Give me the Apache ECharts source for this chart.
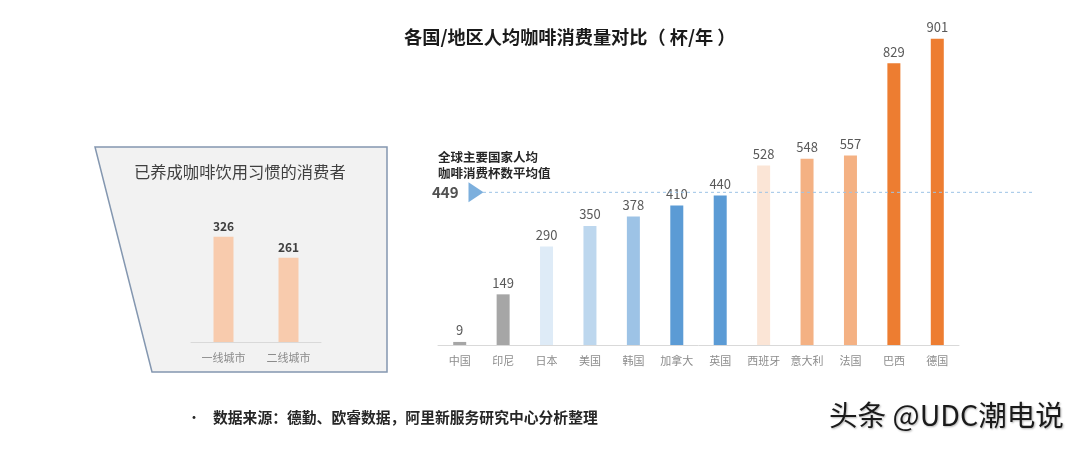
<!DOCTYPE html>
<html>
<head>
<meta charset="utf-8">
<script src="https://cdn.jsdelivr.net/npm/echarts@6/dist/echarts.min.js"></script>
<style>
  html, body { margin: 0; padding: 0; background: #fff; }
  #chart { width: 1080px; height: 449px; }
</style>
</head>
<body>
<div id="chart"></div>
<script>
// 各国人均咖啡消费量（杯/年）
const countries = ['中国', '印尼', '日本', '美国', '韩国', '加拿大', '英国', '西班牙', '意大利', '法国', '巴西', '德国'];
const cupsPerYear = [9, 149, 290, 350, 378, 410, 440, 528, 548, 557, 829, 901];
const barColors = ['#a6a6a6', '#a6a6a6', '#deebf7', '#bdd7ee', '#9dc3e6', '#5b9bd5', '#5b9bd5',
                   '#fbe5d6', '#f4b183', '#f4b183', '#ed7d31', '#ed7d31'];
const globalAverage = 449;

// 已养成咖啡饮用习惯的消费者
const cityTiers = ['一线城市', '二线城市'];
const habitCups = [326, 261];

const cjk = '"Noto Sans CJK SC", "Noto Sans", sans-serif';

const chart = echarts.init(document.getElementById('chart'));

const option = {
    backgroundColor: '#fff',
    animation: false,
    textStyle: { fontFamily: cjk },
    title: {
        text: '各国/地区人均咖啡消费量对比（ 杯/年 ）',
        left: 399,
        top: 23,
        textStyle: { fontSize: 18.2, fontWeight: 'bold', color: '#1a1a1a', fontFamily: cjk }
    },
    grid: [
        { left: 438, width: 521, top: 5, bottom: 104 },   // 主图
        { left: 191, width: 130, top: 213, bottom: 107 }, // 左侧小图
        { left: 483, width: 549, top: 5, bottom: 104 }    // 平均线
    ],
    xAxis: [
        {
            gridIndex: 0, type: 'category', data: countries,
            axisLine: { lineStyle: { color: '#d9d9d9' } },
            axisTick: { show: false },
            axisLabel: { color: '#8c8c8c', fontSize: 11, margin: 10, interval: 0 }
        },
        {
            gridIndex: 1, type: 'category', data: cityTiers,
            axisLine: { lineStyle: { color: '#d9d9d9' } },
            axisTick: { show: false },
            axisLabel: { color: '#8c8c8c', fontSize: 11, margin: 10 }
        },
        { gridIndex: 2, type: 'value', min: 0, max: 1, show: false }
    ],
    yAxis: [
        { gridIndex: 0, type: 'value', min: 0, max: 1000, show: false },
        { gridIndex: 1, type: 'value', min: 0, max: 400, show: false },
        { gridIndex: 2, type: 'value', min: 0, max: 1000, show: false }
    ],
    series: [
        {
            type: 'bar', xAxisIndex: 0, yAxisIndex: 0, barWidth: 13,
            data: cupsPerYear.map((v, i) => ({ value: v, itemStyle: { color: barColors[i] } })),
            label: { show: true, position: 'top', distance: 5, color: '#595959', fontSize: 13 }
        },
        {
            type: 'bar', xAxisIndex: 1, yAxisIndex: 1, barWidth: 20,
            data: habitCups,
            itemStyle: { color: '#f8cbad' },
            label: { show: true, position: 'top', distance: 4, color: '#404040', fontSize: 12, fontWeight: 'bold' }
        },
        {
            type: 'line', xAxisIndex: 2, yAxisIndex: 2,
            data: [[0, globalAverage], [1, globalAverage]],
            symbol: 'none',
            lineStyle: { color: '#9dc3e6', width: 1, type: [3, 3] }
        },
        {
            type: 'scatter', xAxisIndex: 2, yAxisIndex: 2,
            data: [[0, globalAverage]],
            symbol: 'triangle', symbolRotate: -90, symbolSize: [20, 15], symbolOffset: [-7, 0],
            itemStyle: { color: '#5b9bd5' },
            label: {
                show: true, position: 'left', distance: 10,
                formatter: String(globalAverage),
                color: '#262626', fontSize: 15, fontWeight: 'bold'
            }
        }
    ],
    graphic: [
        {
            type: 'polygon', z: -10,
            shape: { points: [[95, 147], [387, 147], [387, 372], [152, 372]] },
            style: { fill: '#f2f2f2', stroke: '#8497b0', lineWidth: 1.5 }
        },
        {
            type: 'text', left: 134, top: 164,
            style: { text: '已养成咖啡饮用习惯的消费者', fill: '#404040', font: '16.3px ' + cjk }
        },
        {
            type: 'text', left: 438, top: 149,
            style: {
                text: '全球主要国家人均\n咖啡消费杯数平均值', fill: '#262626',
                font: 'bold 12.5px ' + cjk, lineHeight: 16
            }
        },
        {
            type: 'text', left: 187, top: 410,
            style: { text: '•', fill: '#262626', font: '14px ' + cjk }
        },
        {
            type: 'text', left: 213, top: 410,
            style: { text: '数据来源：德勤、欧睿数据，阿里新服务研究中心分析整理', fill: '#262626', font: 'bold 14.8px ' + cjk }
        },
        {
            type: 'text', left: 829, top: 401,
            style: {
                text: '头条 @UDC潮电说', fill: '#1a1a1a', font: '28.6px ' + cjk,
                textShadowColor: 'rgba(0,0,0,0.3)', textShadowBlur: 2, textShadowOffsetX: 1, textShadowOffsetY: 1
            }
        }
    ]
};

chart.setOption(option);
window.addEventListener('resize', function () {
    chart.resize();
});
</script>
</body>
</html>
